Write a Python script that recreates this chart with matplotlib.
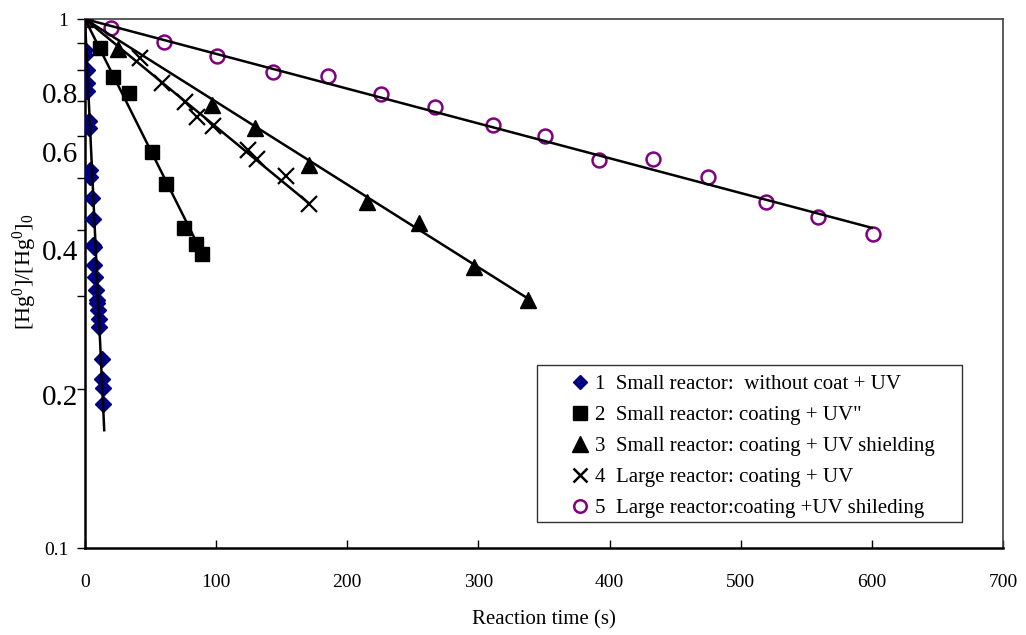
import numpy as np
import matplotlib
matplotlib.use("Agg")
import matplotlib.pyplot as plt
from matplotlib.lines import Line2D
from matplotlib.patches import Rectangle
from matplotlib.ticker import FixedLocator, FixedFormatter, NullFormatter

plt.rcParams["font.family"] = "Liberation Serif"
plt.rcParams["mathtext.fontset"] = "custom"
plt.rcParams["mathtext.rm"] = "Liberation Serif"
plt.rcParams["mathtext.it"] = "Liberation Serif:italic"

# series 1: small reactor, without coat + UV
t1 = [0, 0.3, 0.3, 1.8, 1.8, 1.8, 3.3, 3.3, 3.8, 3.8, 5.1, 5.9, 6.4, 7.1, 7.1,
      7.6, 8.4, 8.9, 9.4, 10.2, 10.7, 10.7, 13.2, 12.7, 13.9, 13.9]
c1 = [1.0, 0.874, 0.855, 0.801, 0.757, 0.732, 0.642, 0.622, 0.518, 0.503, 0.459,
      0.418, 0.374, 0.371, 0.343, 0.325, 0.308, 0.294, 0.291, 0.282, 0.271,
      0.262, 0.228, 0.209, 0.201, 0.187]
# series 2: small reactor, coating + UV
t2 = [0, 11.5, 21.6, 33.8, 51.4, 61.8, 75.8, 84.7, 89.5]
c2 = [1.0, 0.880, 0.776, 0.726, 0.561, 0.487, 0.403, 0.376, 0.360]
# series 3: small reactor, coating + UV shielding
t3 = [0, 25, 97, 130, 171, 215, 255, 297, 338]
c3 = [1.0, 0.877, 0.688, 0.621, 0.530, 0.451, 0.412, 0.340, 0.294]
# series 4: large reactor, coating + UV
t4 = [0, 42, 58.5, 76.3, 85.3, 97.9, 124.4, 131, 153.4, 171.2]
c4 = [1.0, 0.843, 0.756, 0.698, 0.654, 0.628, 0.565, 0.543, 0.506, 0.448]
# series 5: large reactor, coating + UV shielding
t5 = [0, 20, 60, 101, 143, 185, 226, 267, 311, 351, 392, 433, 475, 519, 559, 601]
c5 = [1.0, 0.960, 0.906, 0.851, 0.795, 0.780, 0.721, 0.681, 0.630, 0.602, 0.541,
      0.544, 0.503, 0.451, 0.423, 0.392]

# exponential trend lines: end point of each line (start at t=0, C/C0=1)
fit_end_t = [14.7, 89.5, 338, 171, 600]
fit_end_c = [0.167, 0.360, 0.296, 0.448, 0.403]

labels = ["1  Small reactor:  without coat + UV",
          "2  Small reactor: coating + UV\"",
          "3  Small reactor: coating + UV shielding",
          "4  Large reactor: coating + UV",
          "5  Large reactor:coating +UV shileding"]

navy = "#000080"
purple = "#800080"

fig = plt.figure(figsize=(10.26, 6.35), dpi=100)
ax = fig.add_axes([0.0828, 0.137, 0.8948, 0.833])

ax.plot(t1, c1, ls="none", marker="D", ms=8, color=navy, zorder=3)
ax.plot(t2, c2, ls="none", marker="s", ms=10, color="black", zorder=3)
ax.plot(t3, c3, ls="none", marker="^", ms=11, color="black", zorder=3)
ax.plot(t4, c4, ls="none", marker="x", ms=11, mew=1.6, color="black", zorder=3)
ax.plot(t5, c5, ls="none", marker="o", ms=10, mfc="none", mec=purple, mew=1.8, zorder=3)

for te, ce in zip(fit_end_t, fit_end_c):
    k = np.log(ce) / te
    tt = np.linspace(0, te, 50)
    ax.plot(tt, np.exp(k * tt), color="black", lw=1.8, zorder=4)

ax.set_yscale("log")
ax.set_xlim(0, 700)
ax.set_ylim(0.1, 1)
ax.set_xticks(range(0, 701, 100))
ax.yaxis.set_major_locator(FixedLocator([0.1, 1]))
ax.yaxis.set_major_formatter(FixedFormatter(["0.1", "1"]))
ax.yaxis.set_minor_locator(FixedLocator([0.2, 0.3, 0.4, 0.5, 0.6, 0.7, 0.8, 0.9]))
ax.yaxis.set_minor_formatter(NullFormatter())
ax.tick_params(axis="x", direction="in", length=6, width=1, labelsize=14, pad=19)
ax.tick_params(axis="y", which="both", direction="out", length=6, width=1,
               labelsize=14, pad=6)

for side in ["left", "bottom"]:
    ax.spines[side].set_linewidth(1.8)
for side in ["top", "right"]:
    ax.spines[side].set_linewidth(1.2)
    ax.spines[side].set_color("#404040")

# large hand-placed value labels on the y axis
big_vals = ["0.8", "0.6", "0.4", "0.2"]
big_pos = [0.716, 0.553, 0.361, 0.192]
for s, v in zip(big_vals, big_pos):
    ax.text(-0.007, v, s, transform=ax.get_yaxis_transform(), ha="right",
            va="center", fontsize=21, clip_on=False)

ax.set_xlabel("Reaction time (s)", fontsize=15)
ax.xaxis.set_label_coords(0.5, -0.118)
ax.set_ylabel("[Hg$^0$]/[Hg$^0$]$_0$", fontsize=16)
ax.yaxis.set_label_coords(-0.05, 0.522)

# legend with a separate frame
ax.add_patch(Rectangle((0.4924, 0.049), 0.463, 0.297, transform=ax.transAxes,
                       fc="white", ec="#333333", lw=1.0, zorder=5))
handles = [
    Line2D([], [], ls="none", marker="D", ms=7, color=navy),
    Line2D([], [], ls="none", marker="s", ms=10, color="black"),
    Line2D([], [], ls="none", marker="^", ms=11, color="black"),
    Line2D([], [], ls="none", marker="x", ms=10, mew=1.8, color="black"),
    Line2D([], [], ls="none", marker="o", ms=9, mfc="none", mec=purple, mew=1.8),
]
leg = ax.legend(handles, labels, loc="upper left", bbox_to_anchor=(0.528, 0.328),
                frameon=False, fontsize=15, handlelength=1.0, handletextpad=0.2,
                labelspacing=0.55, borderpad=0.0, borderaxespad=0.0)
leg.set_zorder(6)

fig.savefig("out.png", dpi=100)
